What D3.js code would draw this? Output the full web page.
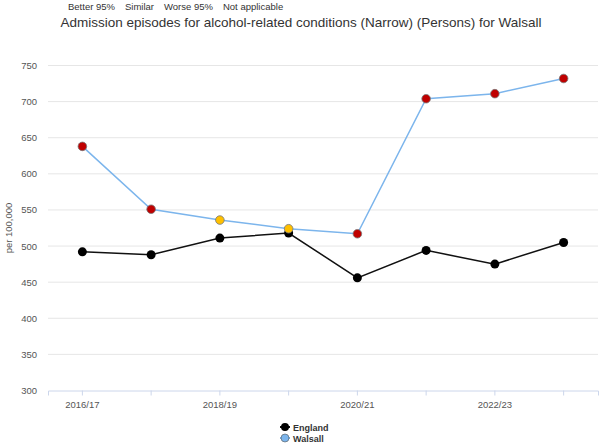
<!DOCTYPE html>
<html>
<head>
<meta charset="utf-8">
<style>
  body { margin: 0; background: #fff; }
  svg { font-family: "Liberation Sans", Arial, sans-serif; }
</style>
</head>
<body>
<svg width="601" height="447"></svg>
<script src="https://d3js.org/d3.v7.min.js"></script>
<script>
// periods shown on the x axis
var periods = ["2016/17", "2017/18", "2018/19", "2019/20", "2020/21", "2021/22", "2022/23", "2023/24"];
var englandValues = [492, 488, 511, 518, 456, 494, 475, 505];
var walsallValues = [638, 551, 536, 524, 517, 704, 711, 732];
// significance compared with England
var walsallSignif = ["Worse", "Worse", "Similar", "Similar", "Worse", "Worse", "Worse", "Worse"];
var yTicks = [300, 350, 400, 450, 500, 550, 600, 650, 700, 750];
var keyLabels = ["Better 95%", "Similar", "Worse 95%", "Not applicable"];

var signifColour = { Better: "#92d050", Similar: "#ffc000", Worse: "#c00000" };
var tickFont = "9.5px";

var svg = d3.select("svg"),
    margin = {top: 65.5, right: 3, bottom: 56.5, left: 48},
    width = +svg.attr("width") - margin.left - margin.right,
    height = +svg.attr("height") - margin.top - margin.bottom,
    g = svg.append("g").attr("transform", "translate(" + margin.left + "," + margin.top + ")");

var x = d3.scaleBand()
    .domain(periods)
    .range([0, width]);

var y = d3.scaleLinear()
    .domain([300, 750])
    .range([height, 0]);

function cx(d, i) { return x(periods[i]) + x.bandwidth() / 2; }

// key at the top, laid out one after another
var key = svg.append("g").attr("transform", "translate(68,10)");
var kx = 0;
keyLabels.forEach(function(label) {
    var t = key.append("text")
        .attr("x", kx)
        .attr("y", 0)
        .style("font-size", "9.5px")
        .attr("fill", "#333")
        .text(label);
    kx += t.node().getComputedTextLength() + 10;
});

svg.append("text")
    .attr("x", 301)
    .attr("y", 27)
    .attr("text-anchor", "middle")
    .style("font-size", "13.5px")
    .attr("fill", "#333")
    .text("Admission episodes for alcohol-related conditions (Narrow) (Persons) for Walsall");

// gridlines
g.append("g")
    .selectAll("line")
    .data(yTicks.slice(1))
    .enter().append("line")
    .attr("x1", 0)
    .attr("x2", width)
    .attr("y1", function(d) { return y(d); })
    .attr("y2", function(d) { return y(d); })
    .attr("stroke", "#e6e6e6");

var yAxis = g.append("g")
    .call(d3.axisLeft(y).tickValues(yTicks).tickSize(0).tickPadding(11));
yAxis.select(".domain").remove();
yAxis.selectAll("text")
    .attr("fill", "#555")
    .style("font-size", tickFont)
    .style("font-family", "'Liberation Sans', Arial, sans-serif");

var xAxis = g.append("g")
    .attr("transform", "translate(0," + height + ")")
    .call(d3.axisBottom(x).tickSize(5).tickPadding(6)
        .tickFormat(function(d, i) { return i % 2 === 0 ? d : ""; }));
xAxis.select(".domain").attr("stroke", "#ccd6eb");
xAxis.selectAll(".tick line").attr("stroke", "#ccd6eb");
xAxis.selectAll("text")
    .attr("fill", "#555")
    .style("font-size", tickFont)
    .style("font-family", "'Liberation Sans', Arial, sans-serif");

svg.append("text")
    .attr("transform", "translate(12," + (margin.top + y(525)) + ") rotate(-90)")
    .attr("text-anchor", "middle")
    .style("font-size", "9.5px")
    .attr("fill", "#555")
    .text("per 100,000");

var line = d3.line()
    .x(cx)
    .y(function(d) { return y(d); });

g.append("path")
    .datum(englandValues)
    .attr("fill", "none")
    .attr("stroke", "#111")
    .attr("stroke-width", 1.5)
    .attr("d", line);

g.append("path")
    .datum(walsallValues)
    .attr("fill", "none")
    .attr("stroke", "#7cb5ec")
    .attr("stroke-width", 1.5)
    .attr("d", line);

g.selectAll(".eng")
    .data(englandValues)
    .enter().append("circle")
    .attr("class", "eng")
    .attr("cx", cx)
    .attr("cy", function(d) { return y(d); })
    .attr("r", 4.5)
    .attr("fill", "#000");

g.selectAll(".wal")
    .data(walsallValues)
    .enter().append("circle")
    .attr("class", "wal")
    .attr("cx", cx)
    .attr("cy", function(d) { return y(d); })
    .attr("r", 4.3)
    .attr("fill", function(d, i) { return signifColour[walsallSignif[i]]; })
    .attr("stroke", "#777")
    .attr("stroke-width", 0.8);

// legend at the bottom
var legend = svg.append("g").attr("transform", "translate(285,427)");
var series = [
    {name: "England", line: "#111", fill: "#000", stroke: "none"},
    {name: "Walsall", line: "#7cb5ec", fill: "#7cb5ec", stroke: "#555"}
];
var item = legend.selectAll("g")
    .data(series)
    .enter().append("g")
    .attr("transform", function(d, i) { return "translate(0," + (i * 11) + ")"; });
item.append("line")
    .attr("x1", -5).attr("x2", 5)
    .attr("stroke", function(d) { return d.line; })
    .attr("stroke-width", 2);
item.append("circle")
    .attr("r", 4)
    .attr("fill", function(d) { return d.fill; })
    .attr("stroke", function(d) { return d.stroke; })
    .attr("stroke-width", 0.6);
item.append("text")
    .attr("x", 8)
    .attr("y", 3.5)
    .style("font-size", "9px")
    .style("font-weight", "bold")
    .attr("fill", "#333")
    .text(function(d) { return d.name; });
</script>
</body>
</html>
